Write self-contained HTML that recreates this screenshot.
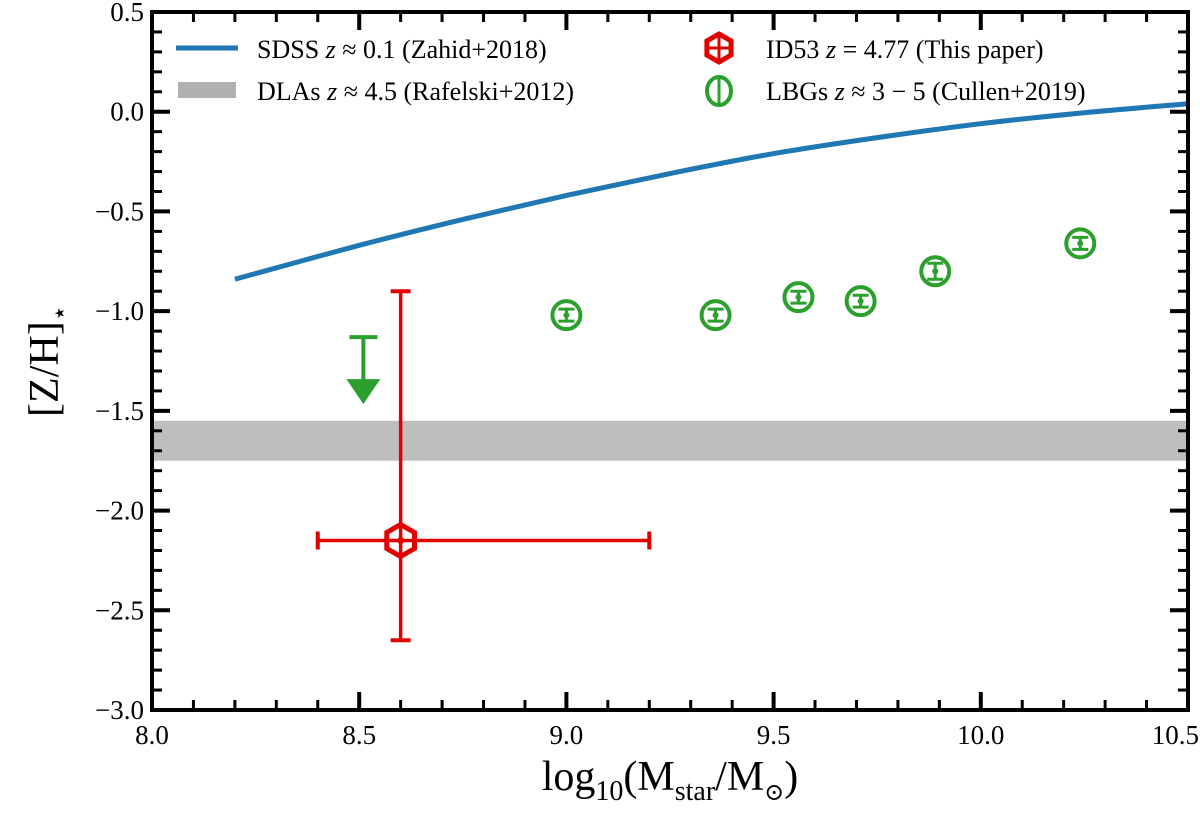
<!DOCTYPE html>
<html><head><meta charset="utf-8"><style>
html,body{margin:0;padding:0;background:#fff}
text,tspan{font-family:"Liberation Serif","DejaVu Serif",serif !important;fill:#000}
</style></head><body>
<svg id="chart" width="1200" height="808" font-family="Liberation Serif, serif" xmlns="http://www.w3.org/2000/svg"></svg>
<script>
const sdssMass=[8.2,8.5,8.75,9.0,9.25,9.5,9.75,10.0,10.25,10.5];
const sdssZ=[-0.84,-0.67,-0.54,-0.42,-0.31,-0.21,-0.13,-0.06,-0.005,0.04];
const dlaBand=[-1.55,-1.75];
const lbgMass=[9.0,9.36,9.56,9.71,9.89,10.24];
const lbgZ=[-1.02,-1.02,-0.93,-0.95,-0.80,-0.66];
const lbgErr=[0.03,0.03,0.03,0.03,0.04,0.03];
const limitMass=[8.51];
const limitZ=[-1.13];
const id53Mass=[8.6];
const id53Z=[-2.15];
const id53XErr=[[8.4,9.2]];
const id53YErr=[[-2.65,-0.9]];
const xTicks=[8.0,8.5,9.0,9.5,10.0,10.5];
const yTicks=[0.5,0.0,-0.5,-1.0,-1.5,-2.0,-2.5,-3.0];
const xTickLabels=["8.0","8.5","9.0","9.5","10.0","10.5"];
const yTickLabels=["0.5","0.0","\u22120.5","\u22121.0","\u22121.5","\u22122.0","\u22122.5","\u22123.0"];

const L=152,R=1188,T=12,B=710;
const X=v=>L+(v-8)/2.5*(R-L);
const Y=v=>T+(0.5-v)/3.5*(B-T);
const svg=document.getElementById('chart');
const NS="http://www.w3.org/2000/svg";
const FF='Liberation Serif, DejaVu Serif, serif';
function mk(tag,attrs,parent){const e=document.createElementNS(NS,tag);for(const k in attrs)e.setAttribute(k,attrs[k]);if(tag==='text')e.setAttribute('font-family',FF);(parent||svg).appendChild(e);return e;}

// band
let band=mk('rect',{x:L,y:Y(dlaBand[0]),width:R-L,height:Y(dlaBand[1])-Y(dlaBand[0]),fill:'#bebebe'});



// sdss line (Catmull-Rom smooth)
const pts=sdssMass.map((m,i)=>[X(m),Y(sdssZ[i])]);
let d='M'+pts[0][0]+' '+pts[0][1];
for(let i=0;i<pts.length-1;i++){const p0=pts[Math.max(0,i-1)],p1=pts[i],p2=pts[i+1],p3=pts[Math.min(pts.length-1,i+2)];
  const c1=[p1[0]+(p2[0]-p0[0])/6,p1[1]+(p2[1]-p0[1])/6],c2=[p2[0]-(p3[0]-p1[0])/6,p2[1]-(p3[1]-p1[1])/6];
  d+=` C${c1[0]} ${c1[1]} ${c2[0]} ${c2[1]} ${p2[0]} ${p2[1]}`;}
let sl=mk('path',{d:d,stroke:'#1f77b4','stroke-width':5,fill:'none'});



// LBG points
const G='#2ca02c';
lbgMass.forEach((m,i)=>{
  const g=mk('g',{});
  
  
  const cx=X(m),cy=Y(lbgZ[i]),y1=Y(lbgZ[i]+lbgErr[i]),y2=Y(lbgZ[i]-lbgErr[i]);
  mk('circle',{cx:cx,cy:cy,r:14,fill:'none',stroke:G,'stroke-width':4},g);
  mk('line',{x1:cx,x2:cx,y1:y1,y2:y2,stroke:G,'stroke-width':3},g);
  mk('line',{x1:cx-8,x2:cx+8,y1:y1,y2:y1,stroke:G,'stroke-width':3},g);
  mk('line',{x1:cx-8,x2:cx+8,y1:y2,y2:y2,stroke:G,'stroke-width':3},g);
  mk('circle',{cx:cx,cy:cy,r:3,fill:G},g);
});

// upper limit
limitMass.forEach((m,i)=>{
  const g=mk('g',{});
  
  
  const cx=X(m),y0=Y(limitZ[i]);
  mk('line',{x1:cx-14,x2:cx+14,y1:y0,y2:y0,stroke:G,'stroke-width':4},g);
  mk('line',{x1:cx,x2:cx,y1:y0,y2:y0+45,stroke:G,'stroke-width':4},g);
  mk('path',{d:`M${cx-17} ${y0+42} L${cx+17} ${y0+42} L${cx} ${y0+67} Z`,fill:G},g);
});

// ID53
const RD='#e00000';
function hexagon(cx,cy,r,parent){let p='';for(let k=0;k<6;k++){const a=Math.PI/6+k*Math.PI/3;p+=(k?'L':'M')+(cx+r*Math.cos(a)).toFixed(1)+' '+(cy+r*Math.sin(a)).toFixed(1);}return mk('path',{d:p+'Z',fill:'none',stroke:RD,'stroke-width':5},parent);}
id53Mass.forEach((m,i)=>{
  const g=mk('g',{});
  
  
  const cx=X(m),cy=Y(id53Z[i]);
  const xa=X(id53XErr[i][0]),xb=X(id53XErr[i][1]),ya=Y(id53YErr[i][0]),yb=Y(id53YErr[i][1]);
  mk('line',{x1:xa,x2:xb,y1:cy,y2:cy,stroke:RD,'stroke-width':3.5},g);
  mk('line',{x1:cx,x2:cx,y1:ya,y2:yb,stroke:RD,'stroke-width':3.5},g);
  mk('line',{x1:xa,x2:xa,y1:cy-9,y2:cy+9,stroke:RD,'stroke-width':4},g);
  mk('line',{x1:xb,x2:xb,y1:cy-9,y2:cy+9,stroke:RD,'stroke-width':4},g);
  mk('line',{x1:cx-10,x2:cx+10,y1:ya,y2:ya,stroke:RD,'stroke-width':4},g);
  mk('line',{x1:cx-10,x2:cx+10,y1:yb,y2:yb,stroke:RD,'stroke-width':4},g);
  hexagon(cx,cy,16,g);
  mk('circle',{cx:cx,cy:cy,r:3.5,fill:RD},g);
});

// frame & ticks
const ax=mk('g',{});


for(let v=8.0;v<=10.5001;v+=0.1){const x=X(v);const major=Math.abs(v*2-Math.round(v*2))<1e-6;const l=major?18:10;
  mk('line',{x1:x,x2:x,y1:B,y2:B-l,stroke:'#000','stroke-width':major?4:3},ax);
  mk('line',{x1:x,x2:x,y1:T,y2:T+l,stroke:'#000','stroke-width':major?4:3},ax);}
for(let v=-3.0;v<=0.5001;v+=0.1){const y=Y(v);const major=Math.abs(v*2-Math.round(v*2))<1e-6;const l=major?18:10;
  mk('line',{x1:L,x2:L+l,y1:y,y2:y,stroke:'#000','stroke-width':major?4:3},ax);
  mk('line',{x1:R,x2:R-l,y1:y,y2:y,stroke:'#000','stroke-width':major?4:3},ax);}
mk('rect',{x:L,y:T,width:R-L,height:B-T,fill:'none',stroke:'#000','stroke-width':4},ax);

xTicks.forEach((v,i)=>{const last=i===xTicks.length-1;const t=mk('text',{x:last?1199:X(v),y:B+34,'text-anchor':last?'end':'middle','font-size':27});t.textContent=xTickLabels[i];
  
  });
yTicks.forEach((v,i)=>{const t=mk('text',{x:L-8,y:Y(v)+9,'text-anchor':'end','font-size':27});t.textContent=yTickLabels[i];
  
  });

// axis titles
let xt=mk('text',{x:670,y:790,'text-anchor':'middle','font-size':42});
xt.innerHTML='log<tspan font-size="28" dy="10">10</tspan><tspan dy="-10">(M</tspan><tspan font-size="28" dy="10">star</tspan><tspan dy="-10">/M</tspan><tspan font-size="24" dy="10">\u2299</tspan><tspan dy="-10">)</tspan>';


let yt=mk('text',{x:0,y:0,'text-anchor':'middle','font-size':42,transform:'translate(58,361) rotate(-90)'});
yt.innerHTML='[Z/H]<tspan font-size="26" dy="10">\u22c6</tspan>';



// legend
const lg=mk('g',{});


mk('line',{x1:176,x2:238,y1:48,y2:48,stroke:'#1f77b4','stroke-width':5},lg);
mk('rect',{x:178,y:82,width:58,height:16,fill:'#b0b0b0'},lg);
function ltxt(x,y,html,name){const t=mk('text',{x:x,y:y,'font-size':26},lg);t.innerHTML=html;}
ltxt(257,58,'SDSS <tspan font-style="italic">z</tspan> \u2248 0.1 (Zahid+2018)','legend-sdss');
ltxt(257,100,'DLAs <tspan font-style="italic">z</tspan> \u2248 4.5 (Rafelski+2012)','legend-dla');
ltxt(766,58,'ID53 <tspan font-style="italic">z</tspan> = 4.77 (This paper)','legend-id53');
ltxt(766,100,'LBGs <tspan font-style="italic">z</tspan> \u2248 3 \u2212 5 (Cullen+2019)','legend-lbg');
hexagon(719,48,14,lg);
mk('line',{x1:708,x2:730,y1:48,y2:48,stroke:RD,'stroke-width':3},lg);
mk('line',{x1:719,x2:719,y1:36,y2:60,stroke:RD,'stroke-width':3},lg);
mk('ellipse',{cx:719,cy:91,rx:12,ry:14,fill:'none',stroke:G,'stroke-width':4},lg);
mk('line',{x1:719,x2:719,y1:77,y2:105,stroke:G,'stroke-width':3},lg);
</script>
</body></html>
